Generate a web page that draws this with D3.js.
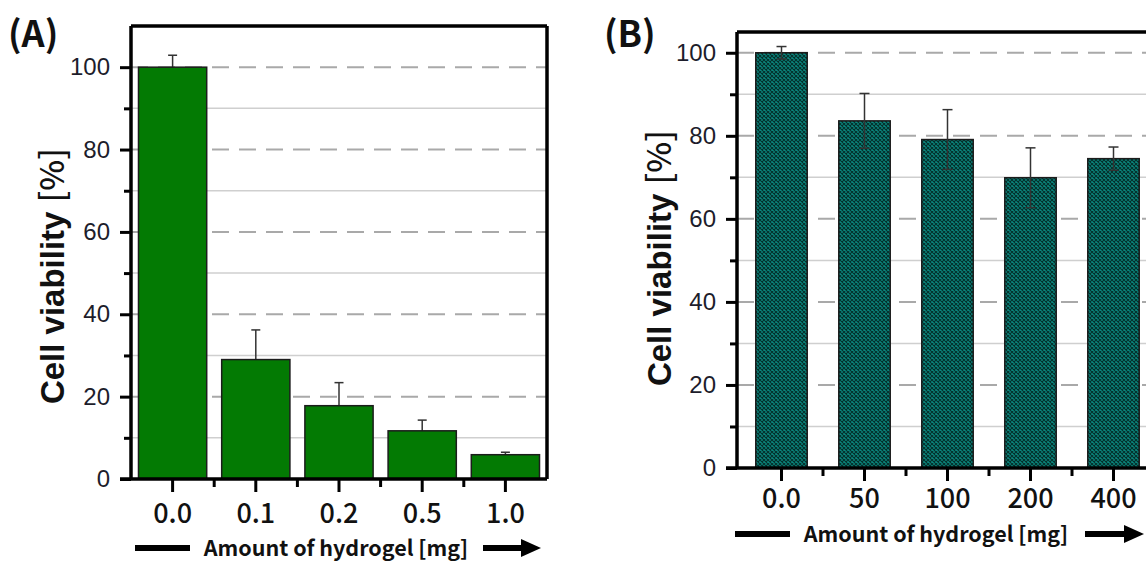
<!DOCTYPE html>
<html>
<head>
<meta charset="utf-8">
<script src="https://cdn.jsdelivr.net/npm/d3@7"></script>
<style>
  body { margin: 0; background: #fff; }
  svg { display: block; }
</style>
</head>
<body>
<div id="chart"></div>
<script>
// panel A data
var doseA = ["0.0", "0.1", "0.2", "0.5", "1.0"];
var viabilityA = [100, 29, 17.8, 11.7, 5.9];
var errA = [2.9, 7.2, 5.6, 2.6, 0.6];

// panel B data
var doseB = ["0.0", "50", "100", "200", "400"];
var viabilityB = [100, 83.6, 79.1, 69.9, 74.5];
var errB = [1.5, 6.6, 7.2, 7.2, 2.8];

var majorTicks = [0, 20, 40, 60, 80, 100];
var minorTicks = [10, 30, 50, 70, 90];

var W = 1146, H = 562;
var svg = d3.select("#chart").append("svg").attr("width", W).attr("height", H);

var defs = svg.append("defs");
var pat = defs.append("pattern")
  .attr("id", "hatch")
  .attr("patternUnits", "userSpaceOnUse")
  .attr("width", 4).attr("height", 4);
pat.append("rect").attr("width", 4).attr("height", 4).attr("fill", "#0b877e");
pat.append("path").attr("d", "M0,0 L4,4 M4,0 L0,4")
  .attr("stroke", "#03302c").attr("stroke-width", 1.1);

var numFont = "'Liberation Sans', Arial, sans-serif";
var jpFont = "'Noto Sans CJK JP', 'Noto Sans', sans-serif";

function drawPanel(p) {
  var g = svg.append("g");
  var x = d3.scaleBand().domain(p.cats).range([p.x0, p.x1])
    .paddingInner(p.pad).paddingOuter(p.pad / 2);
  var y = d3.scaleLinear().domain([0, p.ymax]).range([p.y0, p.y1]);
  var data = p.cats.map(function (c, i) {
    return { cat: c, v: p.vals[i], e: p.errs[i] };
  });

  // gridlines
  g.selectAll(".gmaj").data(majorTicks.filter(function (t) { return t > 0; }))
    .enter().append("line")
    .attr("x1", p.axisX).attr("x2", p.gridEnd)
    .attr("y1", function (d) { return y(d); }).attr("y2", function (d) { return y(d); })
    .attr("stroke", "#a9a9a9").attr("stroke-width", 2)
    .attr("stroke-dasharray", "17,10");
  g.selectAll(".gmin").data(minorTicks)
    .enter().append("line")
    .attr("x1", p.axisX).attr("x2", p.gridEnd)
    .attr("y1", function (d) { return y(d); }).attr("y2", function (d) { return y(d); })
    .attr("stroke", "#cfcfcf").attr("stroke-width", 1.5);

  function errBars() {
    var eg = g.append("g").attr("stroke", "#333").attr("stroke-width", 1.5);
    data.forEach(function (d) {
      var cx = x(d.cat) + x.bandwidth() / 2;
      eg.append("line").attr("x1", cx).attr("x2", cx)
        .attr("y1", y(d.v - d.e)).attr("y2", y(d.v + d.e));
      [d.v - d.e, d.v + d.e].forEach(function (v) {
        eg.append("line").attr("x1", cx - p.cap).attr("x2", cx + p.cap)
          .attr("y1", y(v)).attr("y2", y(v));
      });
    });
  }

  if (p.errBehind) errBars();

  g.selectAll(".bar").data(data).enter().append("rect")
    .attr("x", function (d) { return x(d.cat); })
    .attr("width", x.bandwidth())
    .attr("y", function (d) { return y(d.v); })
    .attr("height", function (d) { return y(0) - y(d.v); })
    .attr("fill", p.fill)
    .attr("stroke", "#1c1c1c").attr("stroke-width", 1.5);

  if (!p.errBehind) errBars();

  // frame
  g.append("line").attr("x1", p.axisX).attr("x2", p.frameRight)
    .attr("y1", p.y1).attr("y2", p.y1).attr("stroke", "#000").attr("stroke-width", 3.5);
  if (p.frameRight < W) {
    g.append("line").attr("x1", p.frameRight).attr("x2", p.frameRight)
      .attr("y1", p.y1).attr("y2", p.y0).attr("stroke", "#000").attr("stroke-width", 3.5);
  }

  // y axis
  var ya = g.append("g").attr("transform", "translate(" + p.axisX + ",0)")
    .call(d3.axisLeft(y).tickValues(majorTicks).tickSize(11).tickPadding(10));
  ya.select(".domain").attr("d", "M0," + p.y0 + "V" + p.y1)
    .attr("stroke", "#000").attr("stroke-width", 3.5);
  ya.selectAll(".tick line").attr("stroke", "#000").attr("stroke-width", 3);
  ya.selectAll(".tick text").attr("font-family", numFont).attr("font-size", 24)
    .attr("fill", "#1d1d2b");
  g.append("g").attr("transform", "translate(" + p.axisX + ",0)")
    .call(d3.axisLeft(y).tickValues(minorTicks).tickSize(7).tickFormat(""))
    .call(function (s) {
      s.select(".domain").remove();
      s.selectAll(".tick line").attr("stroke", "#000").attr("stroke-width", 3);
    });

  // x axis
  var xa = g.append("g").attr("transform", "translate(0," + p.y0 + ")")
    .call(d3.axisBottom(x).tickSize(13).tickPadding(p.tickPad));
  xa.select(".domain").attr("d", "M" + (p.axisX - 11) + ",0H" + p.frameRight)
    .attr("stroke", "#000").attr("stroke-width", 3.5);
  xa.selectAll(".tick line").attr("stroke", "#000").attr("stroke-width", 3);
  xa.selectAll(".tick text").attr("font-family", jpFont).attr("font-size", 27)
    .attr("font-weight", 500).attr("fill", "#111");
  var bounds = p.cats.slice(1).map(function (c) { return x(c) - x.step() * x.paddingInner() / 2; });
  g.selectAll(".xminor").data(bounds).enter().append("line")
    .attr("x1", function (d) { return d; }).attr("x2", function (d) { return d; })
    .attr("y1", p.y0).attr("y2", p.y0 + 8)
    .attr("stroke", "#000").attr("stroke-width", 3);

  // x title with arrows
  var ty = p.titleY;
  g.append("line").attr("x1", p.barL[0]).attr("x2", p.barL[1])
    .attr("y1", ty).attr("y2", ty).attr("stroke", "#000").attr("stroke-width", 6);
  g.append("text").attr("x", p.titleX).attr("y", ty).attr("dy", "0.35em")
    .attr("text-anchor", "middle").attr("font-family", jpFont)
    .attr("font-size", 21.5).attr("font-weight", 600).attr("fill", "#111")
    .text("Amount of hydrogel [mg]");
  g.append("line").attr("x1", p.arrow[0]).attr("x2", p.arrow[1] - 18)
    .attr("y1", ty).attr("y2", ty).attr("stroke", "#000").attr("stroke-width", 6);
  g.append("path")
    .attr("d", "M" + (p.arrow[1] - 20) + "," + (ty - 9) + "L" + p.arrow[1] + "," + ty +
      "L" + (p.arrow[1] - 20) + "," + (ty + 9) + "Z")
    .attr("fill", "#000");

  // y title
  var yt = g.append("text")
    .attr("transform", "translate(" + p.ytitleX + "," + p.ytitleY + ") rotate(-90)")
    .attr("text-anchor", "middle").attr("dy", "0.35em")
    .attr("font-family", numFont).attr("font-size", 33)
    .attr("fill", "#111");
  yt.append("tspan").attr("font-weight", "bold").text("Cell viability ");
  yt.append("tspan").attr("font-family", jpFont).attr("font-weight", 500).text("[%]");

  // panel label
  g.append("text").attr("x", p.labelX).attr("y", 47)
    .attr("font-family", jpFont).attr("font-weight", "bold").attr("font-size", 36)
    .attr("fill", "#111").text(p.label);
}

drawPanel({
  cats: doseA, vals: viabilityA, errs: errA,
  x0: 131, x1: 547, axisX: 131, frameRight: 547, gridEnd: 547,
  y0: 479, y1: 26, ymax: 110, pad: 0.18, tickPad: 12,
  fill: "#037a03", cap: 4.5, errBehind: true,
  titleY: 548, titleX: 336, barL: [135, 190], arrow: [483, 541],
  ytitleX: 52, ytitleY: 276, label: "(A)", labelX: 8
});

drawPanel({
  cats: doseB, vals: viabilityB, errs: errB,
  x0: 740, x1: 1155, axisX: 737, frameRight: 1160, gridEnd: 1146,
  y0: 468, y1: 32, ymax: 105, pad: 0.38, tickPad: 8,
  fill: "url(#hatch)", cap: 5, errBehind: false,
  titleY: 534, titleX: 936, barL: [735, 790], arrow: [1085, 1144],
  ytitleX: 659, ytitleY: 258, label: "(B)", labelX: 604
});
</script>
</body>
</html>
